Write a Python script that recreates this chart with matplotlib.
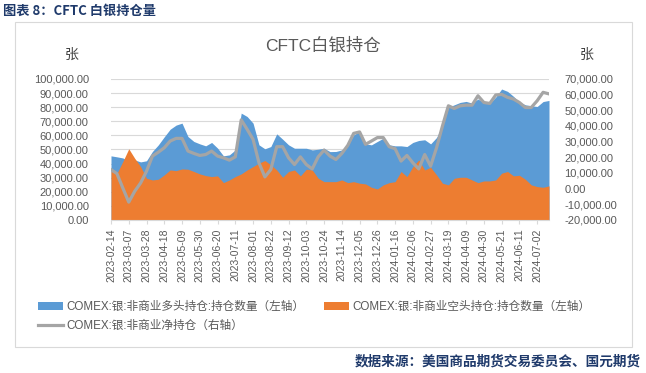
"""CFTC silver positioning chart: long/short areas on the left axis, net line on the right."""

import numpy as np
import pandas as pd
import matplotlib
matplotlib.use("Agg")
import matplotlib.pyplot as plt
from matplotlib.patches import Rectangle, Patch
from matplotlib.lines import Line2D
from matplotlib.ticker import FuncFormatter

plt.rcParams["font.family"] = ["Liberation Sans", "Noto Sans CJK SC", "DejaVu Sans"]

# weekly CFTC report dates (Tuesdays)
dates = pd.date_range("2023-02-14", periods=75, freq="7D")

# non-commercial long, thousands of contracts (left axis)
long_k = [45.5, 44.8, 44.0, 41.9, 42.6, 41.2, 42.0, 48.6, 53.3, 59.0,
          64.4, 67.3, 68.7, 59.2, 55.7, 54.0, 52.6, 55.0, 51.0, 45.5,
          46.2, 49.7, 75.8, 73.4, 68.7, 53.3, 50.5, 52.1, 61.1, 57.3,
          53.3, 50.9, 50.9, 50.9, 49.7, 50.2, 50.9, 48.5, 48.6, 49.7,
          53.3, 60.4, 62.8, 54.0, 53.3, 55.7, 58.0, 53.3, 52.6, 52.6,
          52.1, 55.0, 56.4, 56.9, 54.0, 58.5, 67.0, 80.0, 81.7, 83.4,
          84.1, 82.9, 85.8, 83.4, 82.9, 87.2, 92.9, 91.2, 87.7, 83.6,
          81.7, 81.0, 80.5, 84.0, 84.8]

# non-commercial short, thousands of contracts (left axis)
short_k = [34.5, 33.0, 41.5, 50.5, 43.8, 37.9, 29.6, 28.4, 28.9, 32.0,
           35.5, 35.0, 36.2, 36.0, 34.4, 32.7, 31.5, 30.8, 31.3, 26.5,
           28.4, 30.8, 32.7, 35.5, 37.9, 40.3, 42.2, 39.1, 35.5, 30.3,
           34.4, 35.5, 31.3, 36.0, 35.5, 29.6, 27.2, 27.2, 27.2, 28.4,
           26.5, 27.2, 26.1, 25.6, 23.2, 22.0, 24.9, 26.5, 27.2, 34.4,
           30.8, 37.9, 42.6, 35.5, 37.4, 32.0, 26.1, 24.9, 29.6, 30.3,
           30.3, 28.4, 26.5, 27.7, 27.7, 28.4, 33.2, 34.4, 31.3, 31.7,
           28.9, 24.9, 23.7, 23.2, 24.2]

# non-commercial net, thousands of contracts (right axis)
net_k = [12.2, 9.6, 0.4, -8.6, -1.7, 3.6, 11.1, 20.8, 23.3, 26.1,
         30.4, 32.1, 32.1, 24.0, 22.5, 21.2, 21.8, 24.0, 20.8, 19.7,
         18.2, 20.3, 43.9, 37.9, 31.5, 16.5, 7.5, 12.2, 26.8, 26.8,
         19.7, 15.4, 20.3, 15.4, 12.6, 20.3, 24.6, 20.8, 18.6, 22.5,
         27.6, 35.3, 36.2, 28.3, 30.4, 32.6, 32.6, 26.8, 25.5, 17.6,
         21.2, 16.5, 12.6, 21.8, 14.4, 26.1, 40.0, 52.9, 51.2, 52.9,
         53.3, 53.3, 59.3, 55.0, 54.4, 59.8, 60.2, 58.3, 57.2, 55.0,
         51.8, 51.8, 56.1, 61.5, 60.5]

long_pos = np.array(long_k) * 1000
short_pos = np.array(short_k) * 1000
net_pos = np.array(net_k) * 1000

labels = ["COMEX:银:非商业多头持仓:持仓数量（左轴）",
          "COMEX:银:非商业空头持仓:持仓数量（左轴）",
          "COMEX:银:非商业净持仓（右轴）"]

BLUE = "#5B9BD5"
ORANGE = "#ED7D31"
GRAY = "#A5A5A5"
TEXT = "#595959"
NAVY = "#1F3A6B"
GRID = "#D9D9D9"

fig = plt.figure(figsize=(6.46, 3.73), dpi=100)
fig.patch.set_facecolor("white")

# chart frame
fig.add_artist(Rectangle((15 / 646, 1 - 347 / 373), 617 / 646, 325 / 373,
                         transform=fig.transFigure, fill=False, edgecolor=GRID, linewidth=0.8))

ax = fig.add_axes([111 / 646, 1 - 220 / 373, 438 / 646, 141 / 373])
x = np.arange(len(dates))

ax.fill_between(x, 0, long_pos, color=BLUE, linewidth=0, zorder=2)
ax.fill_between(x, 0, short_pos, color=ORANGE, linewidth=0, zorder=3)
ax.set_xlim(0, len(dates) - 1)
ax.set_ylim(0, 100000)
ax.set_yticks(np.arange(0, 100001, 10000))
ax.yaxis.set_major_formatter(FuncFormatter(lambda v, p: f"{v:,.2f}"))
ax.grid(axis="y", color=GRID, linewidth=0.8, zorder=0)
ax.set_axisbelow(True)

tick_idx = x[::3]
ax.set_xticks(tick_idx)
ax.set_xticklabels([dates[i].strftime("%Y-%m-%d") for i in tick_idx], rotation=90)
ax.tick_params(axis="x", length=3, color=GRID, labelsize=7.5, labelcolor=TEXT, pad=3)
ax.tick_params(axis="y", length=0, labelsize=8, labelcolor=TEXT, pad=16)
for side in ["top", "right", "left"]:
    ax.spines[side].set_visible(False)
ax.spines["bottom"].set_color(GRID)
ax.spines["bottom"].set_zorder(5)

ax2 = ax.twinx()
ax2.plot(x, net_pos, color=GRAY, linewidth=2.3, zorder=4)
ax2.set_ylim(-20000, 70000)
ax2.set_yticks(np.arange(-20000, 70001, 10000))
ax2.yaxis.set_major_formatter(FuncFormatter(lambda v, p: f"{v:,.2f}"))
ax2.tick_params(axis="y", length=0, labelsize=8, labelcolor=TEXT, pad=11)
for side in ["top", "right", "left", "bottom"]:
    ax2.spines[side].set_visible(False)

fig.text(323 / 646, 1 - 45 / 373, "CFTC白银持仓", ha="center", va="center", fontsize=12.5, color=TEXT)
fig.text(72 / 646, 1 - 55 / 373, "张", ha="center", va="center", fontsize=10, color="#404040")
fig.text(587 / 646, 1 - 55 / 373, "张", ha="center", va="center", fontsize=10, color="#404040")

handles = [Patch(facecolor=BLUE, edgecolor="none"),
           Line2D([], [], color=GRAY, linewidth=2.3),
           Patch(facecolor=ORANGE, edgecolor="none")]
fig.legend(handles, [labels[0], labels[2], labels[1]], ncol=2, loc="upper left",
           bbox_to_anchor=(38 / 646, 1 - 301 / 373), frameon=False, fontsize=8.4,
           handlelength=2.1, handleheight=0.6, handletextpad=0.3, columnspacing=1.75,
           labelspacing=0.57, borderpad=0, borderaxespad=0, labelcolor=TEXT)

fig.text(3 / 646, 1 - 11 / 373, "图表 8：CFTC 白银持仓量", ha="left", va="center",
         fontsize=9.5, fontweight="bold", color=NAVY, family=["Noto Sans CJK SC", "DejaVu Sans"])
fig.text(641 / 646, 1 - 361 / 373, "数据来源：美国商品期货交易委员会、国元期货", ha="right", va="center",
         fontsize=9.8, fontweight="bold", color=NAVY, family=["Noto Sans CJK SC", "DejaVu Sans"])

fig.savefig("out.png", dpi=100, facecolor="white")
